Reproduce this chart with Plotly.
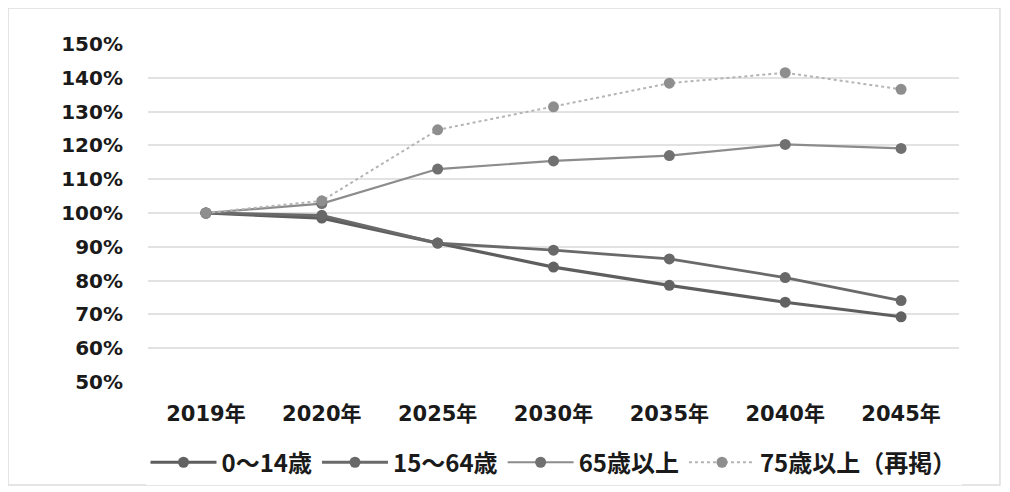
import plotly.graph_objects as go

categories = ["2019年", "2020年", "2025年", "2030年", "2035年", "2040年", "2045年"]
age_0_14 = [100, 98.5, 91.1, 84.0, 78.6, 73.6, 69.3]
age_15_64 = [100, 99.3, 91.1, 89.0, 86.4, 80.9, 74.1]
age_65_plus = [100, 102.8, 113.0, 115.4, 117.0, 120.3, 119.1]
age_75_plus = [100, 103.6, 124.6, 131.4, 138.4, 141.5, 136.6]
series_names = ["0～14歳", "15～64歳", "65歳以上", "75歳以上（再掲）"]
y_ticks = [50, 60, 70, 80, 90, 100, 110, 120, 130, 140, 150]
y_tick_text = [f"{v}%" for v in y_ticks]

AXIS_FONT = "DejaVu Sans, Noto Sans CJK JP, sans-serif"
LEGEND_FONT = "Noto Sans CJK JP, sans-serif"

styles = [
    dict(color="#5e5e5e", width=3.2, dash="solid", mcolor="#626262"),
    dict(color="#6a6a6a", width=2.8, dash="solid", mcolor="#686868"),
    dict(color="#8c8c8c", width=2.2, dash="solid", mcolor="#707070"),
    dict(color="#b4b4b4", width=2.0, dash="dot", mcolor="#8e8e8e"),
]

fig = go.Figure()
for name, vals, st in zip(series_names, [age_0_14, age_15_64, age_65_plus, age_75_plus], styles):
    fig.add_trace(go.Scatter(
        x=categories, y=vals, name=name, mode="lines+markers",
        line=dict(color=st["color"], width=st["width"], dash=st["dash"]),
        marker=dict(color=st["mcolor"], size=11),
    ))

fig.update_layout(
    width=1002, height=484,
    paper_bgcolor="white", plot_bgcolor="white",
    margin=dict(l=140, r=51, t=36, b=110, autoexpand=False),
    font=dict(family=AXIS_FONT, size=18, color="#1a1a1a"),
    showlegend=True,
    legend=dict(
        orientation="h", x=0.5, xanchor="center", y=-0.172, yanchor="top",
        font=dict(family=LEGEND_FONT, size=24, color="#1a1a1a", weight="bold"),
        itemwidth=66, tracegroupgap=0,
    ),
    xaxis=dict(
        type="category", range=[-0.5, 6.5], showgrid=False, showline=False, zeroline=False,
        tickfont=dict(family=AXIS_FONT, size=21, color="#1a1a1a", weight="bold"),
        ticks="", ticklen=0, automargin=False, ticklabelstandoff=17,
    ),
    yaxis=dict(
        range=[50, 150], tickvals=y_ticks, ticktext=y_tick_text,
        showgrid=True, gridcolor="#e2e2e2", gridwidth=1.5, zeroline=False, showline=False,
        tickfont=dict(family=AXIS_FONT, size=20, color="#1a1a1a", weight="bold"),
        ticks="", ticklabelstandoff=24, automargin=False,
    ),
    shapes=[dict(type="rect", xref="paper", yref="paper",
                 x0=-0.1726, x1=1.0505, y0=-0.305, y1=1.1065,
                 line=dict(color="#dddddd", width=1.5))],
)

fig.write_html("out.html")
